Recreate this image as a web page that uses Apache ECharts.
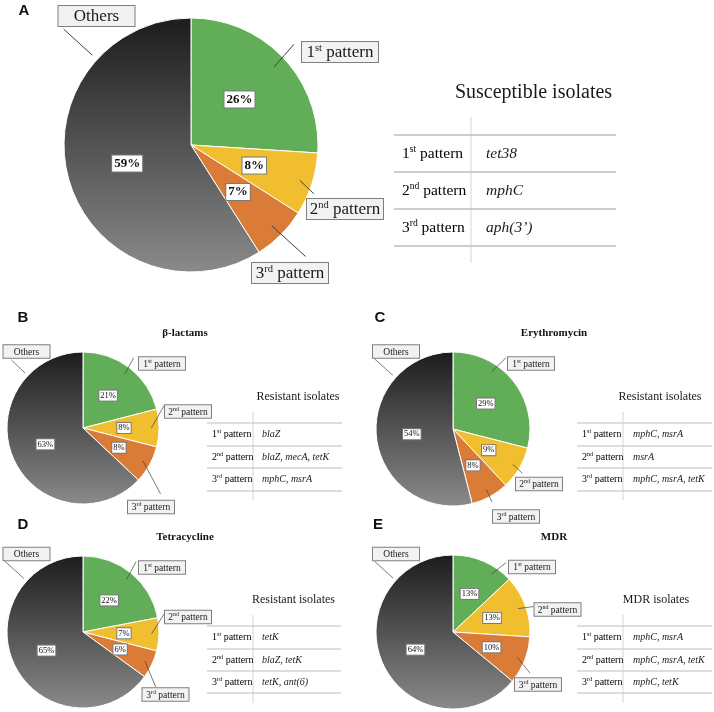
<!DOCTYPE html>
<html><head><meta charset="utf-8">
<script src="https://cdn.jsdelivr.net/npm/echarts@6/dist/echarts.min.js"></script>
<style>html,body{margin:0;padding:0;background:#fff}#c{width:714px;height:712px}</style>
</head><body><div id="c"></div><script>
// ---------- data ----------
const patternNames = ['1st pattern', '2nd pattern', '3rd pattern', 'Others'];
const rowNames = ['1st pattern', '2nd pattern', '3rd pattern'];
const panelLetters = ['A', 'B', 'C', 'D', 'E'];
const panelTitles = ['', 'β-lactams', 'Erythromycin', 'Tetracycline', 'MDR'];
const tableTitles = ['Susceptible isolates', 'Resistant isolates', 'Resistant isolates', 'Resistant isolates', 'MDR isolates'];
const valuesA = [26, 8, 7, 59];
const valuesB = [21, 8, 8, 63];
const valuesC = [29, 9, 8, 54];
const valuesD = [22, 7, 6, 65];
const valuesE = [13, 13, 10, 64];
const genesA = ['tet38', 'mphC', 'aph(3’)'];
const genesB = ['blaZ', 'blaZ, mecA, tetK', 'mphC, msrA'];
const genesC = ['mphC, msrA', 'msrA', 'mphC, msrA, tetK'];
const genesD = ['tetK', 'blaZ, tetK', 'tetK, ant(6)'];
const genesE = ['mphC, msrA', 'mphC, msrA, tetK', 'mphC, tetK'];
const panelValues = [valuesA, valuesB, valuesC, valuesD, valuesE];
const panelGenes = [genesA, genesB, genesC, genesD, genesE];

// ---------- styles / layout ----------
const SERIF = '"Liberation Serif", "Times New Roman", serif';
const SANS = '"Liberation Sans", Arial, sans-serif';
const othersGradient = {type: 'linear', x: 0, y: 0, x2: 0, y2: 1,
  colorStops: [{offset: 0, color: '#1c1c1c'}, {offset: 1, color: '#8a8a8a'}]};
const sliceColors = ['#62ad58', '#f1be2f', '#da7b38', othersGradient];

const small = {pctFont: 8.5, pctBold: 'normal', lblFont: 9.5, boxW: 42, boxPad: [1, 2, 0, 2],
  titleFont: 12, rowFont: 10, lineW: 0.7};
const layouts = [
  {center: [191, 145], r: 127, pctFont: 13, pctBold: 'bold', lblFont: 17, boxW: 72, boxPad: [1, 2, 0, 2],
   letter: [24, 11], title: null, titleFont: 20, rowFont: 15.5, lineW: 1,
   labels: [[340, 52], [345, 209], [290, 273], [96.5, 16]],
   lineEnds: [[-0.09, 0.15], [0.1, -0.2], [0.7, -0.25], [0.08, 1.1]],
   anchorDeg: [null, null, null],
   table: {x0: 394, x1: 616, vx: 471, vy0: 117, vy1: 263, lines: [135, 172, 209, 246], tx: 533.5, ty: 93, lx: 402, gx: 486}},
  Object.assign({}, small, {center: [83, 428], r: 76, letter: [23, 318], title: [185, 333],
   labels: [[162, 363.5], [188, 411.5], [151, 507], [26.5, 351.5]],
   lineEnds: [[-0.09, 0.1], [0, 0.1], [0.7, -0.4], [0.19, 1.1]],
   anchorDeg: [null, null, null],
   table: {x0: 207, x1: 342, vx: 253, vy0: 412, vy1: 500, lines: [423, 446, 468, 491], tx: 298, ty: 397, lx: 212, gx: 262}}),
  Object.assign({}, small, {center: [453, 429], r: 77, letter: [380, 318], title: [554, 333],
   labels: [[531, 363.5], [539, 484], [516, 516.5], [396, 351.5]],
   lineEnds: [[-0.02, 0.1], [0.15, -0.25], [0, -0.5], [0.05, 1.0]],
   anchorDeg: [34, null, null],
   table: {x0: 577, x1: 712, vx: 623, vy0: 412, vy1: 500, lines: [423, 446, 468, 491], tx: 660, ty: 397, lx: 582, gx: 633}}),
  Object.assign({}, small, {center: [83, 632], r: 76, letter: [23, 525], title: [185, 537],
   labels: [[162, 567.5], [188, 617], [165.5, 694.5], [26.5, 554]],
   lineEnds: [[-0.04, 0.1], [0, 0.3], [0.3, 0], [0.05, 1.0]],
   anchorDeg: [null, null, null],
   table: {x0: 207, x1: 341, vx: 253, vy0: 615, vy1: 703, lines: [626, 649, 671, 693], tx: 293.5, ty: 600, lx: 212, gx: 262}}),
  Object.assign({}, small, {center: [453, 632], r: 77, letter: [378, 525], title: [554, 537],
   labels: [[532, 567], [557.5, 609.5], [538, 684.5], [396, 554]],
   lineEnds: [[-0.04, 0.2], [0, 0.3], [0.33, -0.3], [0.05, 1.0]],
   anchorDeg: [33.5, null, null],
   table: {x0: 577, x1: 712, vx: 623, vy0: 615, vy1: 703, lines: [626, 649, 671, 693], tx: 656, ty: 600, lx: 582, gx: 633}})
];

function toRich(name) {
  const m = name.match(/^(\d+)(st|nd|rd|th)(.*)$/);
  if (m) return '{n|' + m[1] + '}{s|' + m[2] + '}{n|' + m[3] + '}';
  return '{n|' + name + '}';
}
function richStyles(f) {
  return {
    n: {fontSize: f, fontFamily: SERIF, color: '#1a1a1a', lineHeight: f + 2},
    s: {fontSize: Math.round(f * 0.62 * 10) / 10, fontFamily: SERIF, color: '#1a1a1a', verticalAlign: 'top', lineHeight: f * 0.62 + 1}
  };
}
function midAngle(vals, i) {
  const total = vals.reduce((a, b) => a + b, 0);
  let cum = 0;
  for (let k = 0; k < i; k++) cum += vals[k];
  return (cum + vals[i] / 2) / total * Math.PI * 2;
}

const series = [];
const graphic = [];
layouts.forEach((L, pi) => {
  const vals = panelValues[pi];
  const data = patternNames.map((n, i) => ({name: n, value: vals[i], itemStyle: {color: sliceColors[i]}}));
  series.push({
    type: 'pie', center: L.center, radius: [0, L.r], silent: true, startAngle: 90, clockwise: true,
    avoidLabelOverlap: false,
    itemStyle: {borderColor: '#fff', borderWidth: 1},
    label: {show: true, position: 'inside', formatter: p => p.value + '%',
      fontFamily: SERIF, fontSize: L.pctFont, fontWeight: L.pctBold, color: '#111',
      backgroundColor: '#fff', borderColor: '#7a7a7a', borderWidth: 1, padding: pi === 0 ? [2, 2, 1, 2] : [1, 1, 0, 1]},
    labelLine: {show: false},
    data: data
  });
  series.push({
    type: 'pie', center: L.center, radius: [0, L.r], silent: true, startAngle: 90, clockwise: true,
    avoidLabelOverlap: false, z: 5,
    itemStyle: {color: 'rgba(0,0,0,0)', borderWidth: 0},
    label: {show: true, position: 'outside', formatter: p => toRich(p.name), rich: richStyles(L.lblFont),
      backgroundColor: '#f2f2f2', borderColor: '#7f7f7f', borderWidth: 1, width: L.boxW, align: 'center',
      overflow: 'none', padding: L.boxPad},
    labelLine: {show: true, length: 4, length2: 0, lineStyle: {color: '#404040', width: L.lineW}},
    labelLayout: p => {
      const i = p.dataIndex;
      const pos = L.labels[i];
      const w = p.labelRect.width, h = p.labelRect.height;
      const bx = pos[0] - w / 2 + L.lineEnds[i][0] * w;
      const by = pos[1] - h / 2 + L.lineEnds[i][1] * h;
      const cx = L.center[0], cy = L.center[1];
      let ax, ay;
      if (i < 3) {
        const a = L.anchorDeg[i] != null ? L.anchorDeg[i] * Math.PI / 180 : midAngle(vals, i);
        ax = cx + 0.9 * L.r * Math.sin(a);
        ay = cy - 0.9 * L.r * Math.cos(a);
      } else {
        const d = Math.hypot(bx - cx, by - cy);
        ax = cx + (bx - cx) / d * 1.05 * L.r;
        ay = cy + (by - cy) / d * 1.05 * L.r;
      }
      return {x: pos[0], y: pos[1], align: 'center', verticalAlign: 'middle',
        labelLinePoints: [[bx, by], [(bx + ax) / 2, (by + ay) / 2], [ax, ay]]};
    },
    data: patternNames.map((n, i) => ({name: n, value: vals[i]}))
  });

  graphic.push({type: 'text', x: L.letter[0], y: L.letter[1], silent: true,
    style: {text: panelLetters[pi], font: 'bold 15px ' + SANS, fill: '#111', textAlign: 'center', textVerticalAlign: 'middle'}});
  if (L.title) {
    graphic.push({type: 'text', x: L.title[0], y: L.title[1], silent: true,
      style: {text: panelTitles[pi], font: 'bold 11px ' + SERIF, fill: '#111', textAlign: 'center', textVerticalAlign: 'middle'}});
  }
  const T = L.table;
  graphic.push({type: 'text', x: T.tx, y: T.ty, silent: true,
    style: {text: tableTitles[pi], font: L.titleFont + 'px ' + SERIF, fill: '#1a1a1a', textAlign: 'center', textVerticalAlign: 'middle'}});
  graphic.push({type: 'line', silent: true, shape: {x1: T.vx, y1: T.vy0, x2: T.vx, y2: T.vy1},
    style: {stroke: '#d4d4d4', lineWidth: 1}});
  T.lines.forEach(y => {
    graphic.push({type: 'line', silent: true, shape: {x1: T.x0, y1: y, x2: T.x1, y2: y},
      style: {stroke: '#bdbdbd', lineWidth: pi === 0 ? 1.6 : 1.2}});
  });
  rowNames.forEach((rn, ri) => {
    const cy = (T.lines[ri] + T.lines[ri + 1]) / 2;
    graphic.push({type: 'text', x: T.lx, y: cy, silent: true,
      style: {text: toRich(rn), rich: richStyles(L.rowFont), textAlign: 'left', textVerticalAlign: 'middle'}});
    graphic.push({type: 'text', x: T.gx, y: cy, silent: true,
      style: {text: panelGenes[pi][ri], font: 'italic ' + L.rowFont + 'px ' + SERIF, fill: '#1a1a1a', textAlign: 'left', textVerticalAlign: 'middle'}});
  });
});

const chart = echarts.init(document.getElementById('c'), null, {renderer: 'canvas'});
chart.setOption({backgroundColor: '#fff', animation: false, series: series, graphic: graphic});
</script></body></html>
